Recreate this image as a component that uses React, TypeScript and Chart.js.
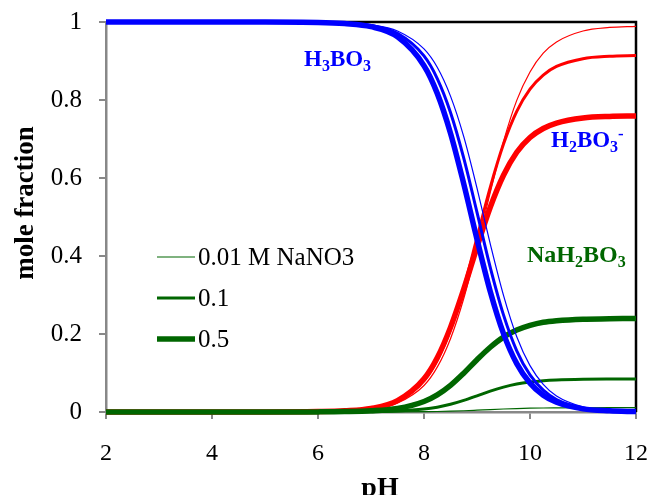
import React, { useEffect, useRef } from 'react';
import { Chart, registerables } from 'chart.js';

Chart.register(...registerables);

// ---- data ----
const pH = [2, 4, 5, 6, 6.5, 7, 7.5, 8, 8.25, 8.5, 8.75, 9, 9.25, 9.5, 9.75, 10, 10.25, 10.5, 11, 11.5, 12];

const h3bo3_001 = [1, 1, 1, 0.999, 0.998, 0.993, 0.977, 0.931, 0.884, 0.81, 0.706, 0.574, 0.431, 0.299, 0.193, 0.119, 0.071, 0.041, 0.013, 0.004, 0.001];
const h3bo3_01 = [1, 1, 1, 0.999, 0.997, 0.991, 0.971, 0.913, 0.855, 0.768, 0.651, 0.512, 0.371, 0.249, 0.157, 0.095, 0.056, 0.032, 0.01, 0.003, 0.001];
const h3bo3_05 = [1, 1, 1, 0.999, 0.996, 0.988, 0.962, 0.888, 0.817, 0.715, 0.585, 0.443, 0.309, 0.201, 0.124, 0.074, 0.043, 0.025, 0.008, 0.003, 0.001];

const h2bo3_001 = [0, 0, 0, 0.001, 0.002, 0.007, 0.023, 0.068, 0.115, 0.188, 0.291, 0.422, 0.563, 0.694, 0.799, 0.872, 0.92, 0.949, 0.977, 0.986, 0.989];
const h2bo3_01 = [0, 0, 0, 0.001, 0.003, 0.008, 0.027, 0.08, 0.133, 0.212, 0.319, 0.447, 0.576, 0.687, 0.771, 0.828, 0.864, 0.886, 0.906, 0.912, 0.914];
const h2bo3_05 = [0, 0, 0, 0.001, 0.003, 0.009, 0.029, 0.085, 0.139, 0.217, 0.315, 0.423, 0.525, 0.607, 0.666, 0.704, 0.727, 0.741, 0.754, 0.758, 0.759];

const nah2bo3_001 = [0, 0, 0, 0, 0, 0.0001, 0.0003, 0.0008, 0.0013, 0.0021, 0.0032, 0.0047, 0.0063, 0.0077, 0.0089, 0.0097, 0.0102, 0.0105, 0.0109, 0.011, 0.011];
const nah2bo3_01 = [0, 0, 0, 0.0001, 0.0003, 0.0008, 0.0025, 0.0074, 0.0123, 0.0197, 0.0297, 0.0415, 0.0535, 0.0638, 0.0717, 0.0769, 0.0803, 0.0823, 0.0841, 0.0847, 0.0849];
const nah2bo3_05 = [0, 0, 0, 0.0003, 0.001, 0.003, 0.0091, 0.0269, 0.0439, 0.0684, 0.0996, 0.134, 0.166, 0.192, 0.21, 0.222, 0.23, 0.234, 0.238, 0.239, 0.24];

const xTicks = [2, 4, 6, 8, 10, 12];
const xTickLabels = ['2', '4', '6', '8', '10', '12'];
const yTicks = [0, 0.2, 0.4, 0.6, 0.8, 1];
const yTickLabels = ['0', '0.2', '0.4', '0.6', '0.8', '1'];

const legendLabels = ['0.01 M NaNO3', '0.1', '0.5'];
const xTitle = 'pH';
const yTitle = 'mole fraction';

const BLUE = '#0000ff';
const RED = '#ff0000';
const GREEN = '#006600';
const FONT = "'Liberation Serif', serif";
const WIDTHS = [1.2, 3, 5.5];

type Part = { t: string; size: number; dy: number };

function drawRich(ctx: CanvasRenderingContext2D, x: number, y: number, parts: Part[], color: string) {
  ctx.fillStyle = color;
  ctx.textBaseline = 'alphabetic';
  ctx.textAlign = 'left';
  let cx = x;
  for (const p of parts) {
    ctx.font = `bold ${p.size}px ${FONT}`;
    ctx.fillText(p.t, cx, y + p.dy);
    cx += ctx.measureText(p.t).width;
  }
}

const overlay = {
  id: 'overlay',
  beforeDatasetsDraw(chart: any) {
    const { ctx, chartArea: a } = chart;
    ctx.save();
    ctx.strokeStyle = '#000';
    ctx.lineWidth = 2.5;
    ctx.beginPath();
    ctx.moveTo(a.left, a.top);
    ctx.lineTo(a.right, a.top);
    ctx.lineTo(a.right, a.bottom);
    ctx.stroke();
    ctx.restore();
  },
  afterDatasetsDraw(chart: any) {
    const { ctx } = chart;
    ctx.save();
    // legend
    const ly = [257, 298, 339];
    for (let i = 0; i < 3; i++) {
      ctx.strokeStyle = GREEN;
      ctx.lineWidth = WIDTHS[i];
      ctx.beginPath();
      ctx.moveTo(157, ly[i]);
      ctx.lineTo(195, ly[i]);
      ctx.stroke();
      ctx.fillStyle = '#000';
      ctx.font = `25px ${FONT}`;
      ctx.textBaseline = 'middle';
      ctx.textAlign = 'left';
      ctx.fillText(legendLabels[i], 198, ly[i] + 1);
    }
    // species labels
    drawRich(ctx, 304, 66, [
      { t: 'H', size: 23, dy: 0 }, { t: '3', size: 16, dy: 5 }, { t: 'BO', size: 23, dy: 0 }, { t: '3', size: 16, dy: 5 },
    ], BLUE);
    drawRich(ctx, 551, 147, [
      { t: 'H', size: 23, dy: 0 }, { t: '2', size: 16, dy: 5 }, { t: 'BO', size: 23, dy: 0 }, { t: '3', size: 16, dy: 5 }, { t: '-', size: 17, dy: -8 },
    ], BLUE);
    drawRich(ctx, 527, 262, [
      { t: 'NaH', size: 24, dy: 0 }, { t: '2', size: 16, dy: 5 }, { t: 'BO', size: 24, dy: 0 }, { t: '3', size: 16, dy: 5 },
    ], GREEN);
    // axis titles
    ctx.fillStyle = '#000';
    ctx.textAlign = 'center';
    ctx.textBaseline = 'alphabetic';
    ctx.font = `bold 28px ${FONT}`;
    ctx.fillText(xTitle, 380, 496);
    ctx.font = `bold 27px ${FONT}`;
    ctx.translate(33, 203);
    ctx.rotate(-Math.PI / 2);
    ctx.fillText(yTitle, 0, 0);
    ctx.restore();
  },
};

function series(vals: number[]) {
  return pH.map((x, i) => ({ x, y: vals[i] }));
}

export default function App() {
  const ref = useRef<HTMLCanvasElement>(null);
  useEffect(() => {
    if (!ref.current) return;
    const mk = (label: string, vals: number[], color: string, w: number) => ({
      label,
      data: series(vals),
      borderColor: color,
      backgroundColor: color,
      borderWidth: w,
      pointRadius: 0,
      cubicInterpolationMode: 'monotone' as const,
      fill: false,
      clip: false as any,
    });
    const chart = new Chart(ref.current, {
      type: 'line',
      data: {
        datasets: [
          mk('H3BO3 0.01', h3bo3_001, BLUE, WIDTHS[0]),
          mk('H3BO3 0.1', h3bo3_01, BLUE, WIDTHS[1]),
          mk('H3BO3 0.5', h3bo3_05, BLUE, WIDTHS[2]),
          mk('NaH2BO3 0.01', nah2bo3_001, GREEN, WIDTHS[0]),
          mk('NaH2BO3 0.1', nah2bo3_01, GREEN, WIDTHS[1]),
          mk('NaH2BO3 0.5', nah2bo3_05, GREEN, WIDTHS[2]),
          mk('H2BO3- 0.01', h2bo3_001, RED, WIDTHS[0]),
          mk('H2BO3- 0.1', h2bo3_01, RED, WIDTHS[1]),
          mk('H2BO3- 0.5', h2bo3_05, RED, WIDTHS[2]),
        ],
      },
      options: {
        animation: false,
        responsive: false,
        layout: { padding: { top: 22, right: 16, left: 0, bottom: 0 } },
        plugins: { legend: { display: false }, tooltip: { enabled: false } },
        scales: {
          x: {
            type: 'linear',
            min: 2,
            max: 12,
            afterBuildTicks: (s: any) => { s.ticks = xTicks.map((v) => ({ value: v })); },
            afterFit: (s: any) => { s.height = 83; s.paddingLeft = 0; s.paddingRight = 0; },
            ticks: {
              font: { family: FONT, size: 24 },
              color: '#000',
              padding: 20,
              maxRotation: 0,
              callback: (_v: any, i: number) => xTickLabels[i],
            },
            grid: { drawOnChartArea: false, tickLength: 7, color: '#888', lineWidth: 2 },
            border: { color: '#888', width: 2.5 },
          },
          y: {
            type: 'linear',
            min: 0,
            max: 1,
            afterBuildTicks: (s: any) => { s.ticks = yTicks.map((v) => ({ value: v })); },
            afterFit: (s: any) => { s.width = 106; s.paddingTop = 0; s.paddingBottom = 0; },
            ticks: {
              font: { family: FONT, size: 25 },
              color: '#000',
              padding: 17,
              callback: (_v: any, i: number) => yTickLabels[i],
            },
            grid: { drawOnChartArea: false, tickLength: 7, color: '#888', lineWidth: 2 },
            border: { color: '#888', width: 2.5 },
          },
        },
      },
      plugins: [overlay],
    });
    return () => chart.destroy();
  }, []);
  return (
    <div style={{ position: 'absolute', left: 0, top: 0, width: 652, height: 495 }}>
      <canvas ref={ref} width={652} height={495} />
    </div>
  );
}
